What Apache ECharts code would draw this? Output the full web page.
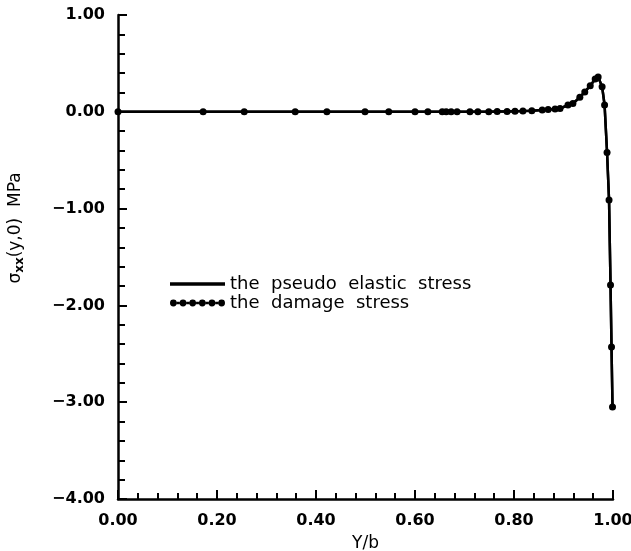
<!DOCTYPE html>
<html lang="en">
<head>
    <meta charset="UTF-8">
    <title>Stress</title>
    <script src="https://cdn.jsdelivr.net/npm/echarts@6/dist/echarts.min.js"></script>
    <style>body{margin:0;background:#fff;}</style>
</head>
<body>
<div id="main" style="width: 631px;height:551px;"></div>
<script>
    // Y/b positions of the plotted points
    var yb = [0, 0.172, 0.255, 0.358, 0.422, 0.499, 0.547, 0.600, 0.626, 0.655, 0.663, 0.673, 0.685,
        0.711, 0.727, 0.749, 0.766, 0.786, 0.802, 0.818, 0.836, 0.857, 0.869, 0.883, 0.893, 0.909,
        0.919, 0.933, 0.943, 0.954, 0.964, 0.970, 0.978, 0.983, 0.988, 0.992, 0.995, 0.997, 0.999];
    var damageStress = [0, 0, 0, 0, 0, 0, 0, 0, 0, 0, 0, 0, 0,
        0, 0, 0, 0.002, 0.004, 0.006, 0.008, 0.012, 0.018, 0.024, 0.03, 0.034, 0.07,
        0.085, 0.15, 0.205, 0.27, 0.34, 0.36, 0.26, 0.07, -0.42, -0.91, -1.79, -2.43, -3.05];
    var pseudoStress = [0, 0, 0, 0, 0, 0, 0, 0, 0, 0, 0, 0, 0,
        0, 0, 0, 0.002, 0.004, 0.006, 0.008, 0.012, 0.018, 0.024, 0.03, 0.034, 0.07,
        0.085, 0.15, 0.205, 0.27, 0.34, 0.36, 0.26, 0.07, -0.42, -0.91, -1.79, -2.43, -3.05];
    var names = ['the  pseudo  elastic  stress', 'the  damage  stress'];

    function pairs(ys) {
        return yb.map(function (x, i) { return [x, ys[i]]; });
    }
    function fmt(v) {
        return v.toFixed(2).replace('-', '\u2212');
    }

    var font = 'DejaVu Sans';
    var dotsIcon = 'path://M0,3.5a3.5,3.5 0 1,0 7,0a3.5,3.5 0 1,0 -7,0z M7,2.2h3v2.6h-3z M10,3.5a3.5,3.5 0 1,0 7,0a3.5,3.5 0 1,0 -7,0z M17,2.2h3v2.6h-3z M20,3.5a3.5,3.5 0 1,0 7,0a3.5,3.5 0 1,0 -7,0z M27,2.2h3v2.6h-3z M30,3.5a3.5,3.5 0 1,0 7,0a3.5,3.5 0 1,0 -7,0z M37,2.2h3v2.6h-3z M40,3.5a3.5,3.5 0 1,0 7,0a3.5,3.5 0 1,0 -7,0z M47,2.2h3v2.6h-3z M50,3.5a3.5,3.5 0 1,0 7,0a3.5,3.5 0 1,0 -7,0z';

    var myChart = echarts.init(document.getElementById('main'));
    var option = {
        animation: false,
        backgroundColor: '#fff',
        grid: {left: 118, right: 18, top: 15, bottom: 52, containLabel: false, outerBoundsMode: 'none'},
        legend: {
            orient: 'vertical',
            left: 165,
            top: 270,
            itemWidth: 55,
            itemHeight: 7,
            itemGap: 1,
            textStyle: {fontFamily: font, fontSize: 18, color: '#000'},
            data: [
                {name: names[0], icon: 'path://M0,0h50v3h-50z', itemStyle: {color: '#000'}},
                {name: names[1], icon: dotsIcon, itemStyle: {color: '#000'}}
            ]
        },
        xAxis: {
            type: 'value',
            min: 0, max: 1, interval: 0.2,
            name: 'Y/b',
            nameLocation: 'middle',
            nameGap: 36,
            nameTextStyle: {fontFamily: font, fontSize: 17, color: '#000'},
            axisLine: {onZero: false, lineStyle: {color: '#000', width: 2.5}},
            axisTick: {inside: true, length: 9, lineStyle: {color: '#000', width: 2}},
            minorTick: {show: true, splitNumber: 5, length: 6, lineStyle: {color: '#000', width: 2}},
            splitLine: {show: false},
            axisLabel: {formatter: fmt, margin: 14, fontFamily: font, fontSize: 16, fontWeight: 'bold', color: '#000'}
        },
        yAxis: {
            type: 'value',
            min: -4, max: 1, interval: 1,
            name: '{a|\u03c3}{s|xx}{a|(y,0)  MPa}',
            nameLocation: 'middle',
            nameGap: 92,
            nameRotate: 90,
            nameTextStyle: {
                color: '#000',
                padding: [0, 0, 0, 58],
                rich: {
                    a: {fontFamily: font, fontSize: 17, color: '#000'},
                    s: {fontFamily: font, fontSize: 12, fontWeight: 'bold', color: '#000', verticalAlign: 'bottom', padding: [9, 0, 0, 0]}
                }
            },
            axisLine: {onZero: false, lineStyle: {color: '#000', width: 2.5}},
            axisTick: {inside: true, length: 9, lineStyle: {color: '#000', width: 2}},
            minorTick: {show: true, splitNumber: 5, length: 7, lineStyle: {color: '#000', width: 2}},
            splitLine: {show: false},
            axisLabel: {formatter: fmt, margin: 13, fontFamily: font, fontSize: 16, fontWeight: 'bold', color: '#000'}
        },
        series: [
            {
                name: names[0],
                type: 'line',
                data: pairs(pseudoStress),
                showSymbol: false,
                lineStyle: {color: '#000', width: 2.5},
                itemStyle: {color: '#000'}
            },
            {
                name: names[1],
                type: 'line',
                data: pairs(damageStress),
                symbol: 'circle',
                symbolSize: 7,
                lineStyle: {color: '#000', width: 2.5},
                itemStyle: {color: '#000'}
            }
        ]
    };

    myChart.setOption(option);
</script>

</body>
</html>
